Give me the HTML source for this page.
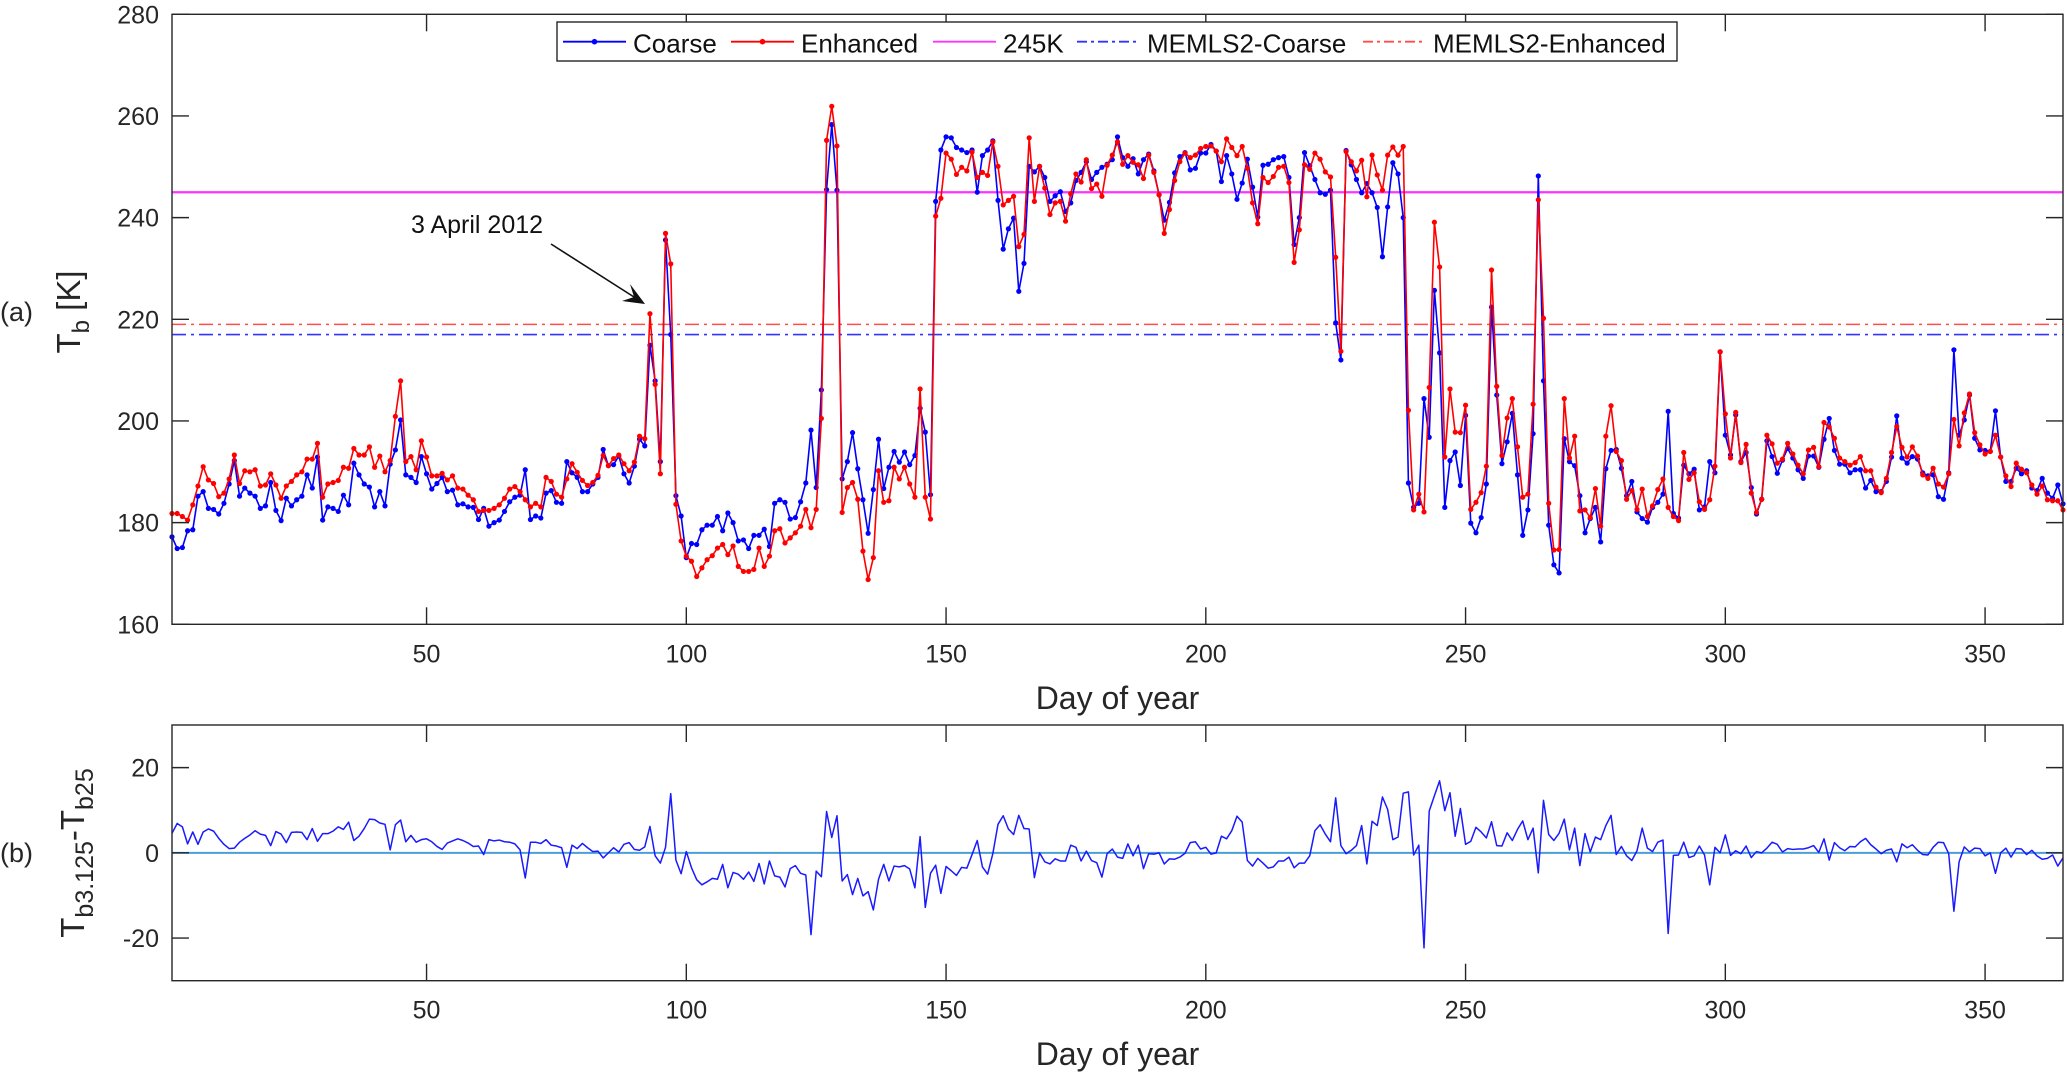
<!DOCTYPE html>
<html><head><meta charset="utf-8"><style>
html,body{margin:0;padding:0;background:#fff;}
svg{display:block;font-family:"Liberation Sans",Arial,sans-serif;}
</style></head><body>
<svg id="chart" width="2067" height="1074" viewBox="0 0 2067 1074" xmlns="http://www.w3.org/2000/svg">
<rect x="0" y="0" width="2067" height="1074" fill="#fff"/>
<g id="gtop"></g>
<g id="gbot"></g>
</svg>
<script>
const coarse = [
177.2,174.9,175.1,178.4,178.6,185.2,186.1,182.8,182.6,181.7,
183.8,187.6,192.2,185.2,186.8,185.8,185.2,182.8,183.3,187.9,
182.4,180.4,184.8,183.3,184.5,185.2,189.4,186.8,192.9,180.5,
183.1,182.8,182.2,185.4,183.5,191.7,189.4,187.6,187.0,183.1,
186.1,183.3,191.5,194.3,200.2,189.4,188.9,187.9,193.0,189.6,
186.6,187.7,188.9,186.1,186.4,183.5,183.7,183.1,183.0,180.6,
182.8,179.3,180.0,180.5,182.2,184.1,185.0,185.4,190.4,180.6,
181.3,180.9,185.8,186.3,
184.0,183.8,192.0,189.8,188.9,186.1,186.1,187.6,188.9,194.4,
191.2,191.4,193.1,189.6,187.8,191.1,196.4,195.1,214.9,207.9,
192.0,235.6,217.0,185.3,181.3,173.1,175.9,175.7,178.6,179.5,
179.5,181.2,178.4,181.9,180.0,176.4,176.6,174.9,177.5,177.5,
178.7,175.3,183.8,184.5,184.0,180.7,181.0,184.1,187.8,198.2,
186.9,206.1,245.5,258.3,245.4,188.6,192.0,197.7,190.6,184.5,
177.9,186.5,196.4,186.7,190.9,194.0,191.9,193.9,191.4,193.2,
202.5,197.8,185.5,
243.2,253.3,255.9,255.7,253.8,253.3,252.8,253.3,245.0,252.2,
253.3,255.1,243.4,233.8,237.8,239.9,225.5,231.0,250.1,249.0,
250.1,247.9,243.2,244.3,245.1,241.2,242.9,247.3,248.9,251.0,
247.5,248.9,249.9,250.5,251.4,255.9,251.8,250.1,251.6,248.6,
251.4,252.5,249.2,244.5,239.5,243.0,248.8,252.0,252.8,249.4,
249.7,252.7,252.7,254.4,253.1,247.1,252.2,248.6,243.6,246.8,
251.5,246.0,240.1,250.3,250.5,251.4,251.8,252.0,247.9,234.7,
240.0,252.8,250.2,247.5,244.9,244.6,245.4,219.3,212.0,253.2,
250.4,247.5,244.9,246.7,244.9,242.0,232.3,242.1,250.8,248.6,
240.0,187.8,183.0,183.8,204.4,196.8,225.7,213.4,183.0,192.2,
193.9,187.3,201.1,179.9,178.0,181.0,187.6,222.4,205.1,191.6,
195.9,201.5,189.4,177.5,182.5,197.5,248.2,207.9,179.5,171.7,
170.1,196.5,192.0,191.2,185.3,178.0,180.8,183.0,176.2,190.6,
194.2,194.4,190.7,185.3,188.1,182.1,180.8,180.1,183.0,184.0,
185.6,201.9,
181.8,180.9,191.3,189.6,190.5,182.5,183.1,192.0,189.8,213.6,
197.2,193.3,201.2,192.0,193.8,186.9,181.7,184.6,196.1,193.0,
189.7,192.3,194.6,192.7,190.4,188.7,193.1,193.1,190.9,196.4,
200.5,194.2,191.5,191.5,189.8,190.4,190.4,186.8,188.3,186.1,
186.1,188.1,192.9,201.0,192.7,191.7,193.0,192.5,189.8,189.2,
189.4,185.1,184.6,189.8,214.0,197.2,200.2,205.1,196.6,194.3,
194.2,194.0,202.0,192.9,188.1,188.1,190.7,189.6,190.2,186.8,
186.3,188.7,185.8,184.8,187.4,183.7
];
const enhanced = [
181.8,181.8,181.2,180.5,183.5,187.2,191.0,188.4,187.7,185.1,
185.8,188.6,193.3,187.7,190.2,190.0,190.4,187.2,187.4,189.6,
187.4,184.8,187.2,188.1,189.4,190.0,192.5,192.5,195.6,185.0,
187.6,187.9,188.3,190.9,190.7,194.6,193.3,193.3,194.9,190.9,
193.1,190.0,192.2,200.9,207.9,192.0,193.0,190.4,196.1,192.9,
189.2,189.2,189.7,188.4,189.2,186.8,186.6,185.4,184.5,182.2,
182.4,182.4,182.8,183.5,184.8,186.6,187.1,186.1,184.5,183.1,
183.8,183.1,188.9,188.1,
185.6,185.0,188.6,191.6,189.9,188.3,187.3,187.9,189.3,193.2,
191.2,192.6,193.3,191.6,190.2,191.9,197.0,196.5,221.1,207.2,
189.6,236.9,230.9,183.6,176.4,173.4,172.4,169.4,171.1,172.7,
173.5,175.0,175.7,173.7,175.4,171.4,170.4,170.4,170.8,175.0,
171.4,173.4,178.4,178.8,176.0,177.0,178.0,179.3,182.6,179.0,
182.6,200.5,255.2,261.9,254.1,182.0,186.9,187.9,184.6,174.4,
168.8,173.1,190.2,184.0,184.3,190.9,188.6,190.9,187.6,185.0,
206.3,185.0,180.7,
240.3,243.8,252.7,251.5,248.5,249.9,249.2,252.9,247.9,248.9,
248.3,254.9,250.1,242.5,243.4,244.2,234.3,236.7,255.7,243.2,
250.1,245.8,240.6,242.9,243.2,239.3,244.7,248.6,247.0,251.4,
245.7,246.6,244.2,250.3,252.3,254.9,250.5,252.2,250.9,250.4,
247.7,252.3,248.9,244.5,236.9,241.6,247.3,251.0,252.7,251.8,
252.3,253.6,254.0,254.1,253.1,251.0,255.5,253.8,252.2,254.0,
249.7,242.9,238.8,247.9,246.9,248.1,249.9,250.1,246.9,231.2,
237.6,250.4,249.5,252.7,251.5,249.0,248.0,232.2,213.7,253.0,
251.0,249.2,251.3,244.1,252.3,248.4,245.4,252.3,253.9,252.3,
254.0,202.1,182.5,185.6,182.1,206.6,239.1,230.3,192.9,206.3,
197.8,197.7,203.1,182.6,184.0,185.9,191.1,229.7,206.8,193.2,
200.6,204.4,194.9,185.0,185.6,203.3,243.5,220.2,183.8,174.6,
174.7,204.4,192.7,197.0,182.3,182.5,181.0,186.7,179.3,197.0,
203.0,194.0,192.2,184.6,186.3,182.6,186.6,181.2,183.3,186.5,
188.6,183.0,
181.2,180.4,193.8,188.5,189.8,184.1,182.6,184.5,191.1,213.6,
201.4,192.7,201.7,191.8,195.4,185.8,182.0,184.6,197.2,195.5,
191.7,192.5,195.6,193.5,191.3,189.6,194.3,194.8,191.0,199.7,
198.8,196.6,192.7,192.0,191.3,191.8,193.0,190.2,190.2,187.0,
185.9,188.7,193.8,198.9,194.8,192.9,194.9,193.1,189.4,188.7,
190.7,187.6,187.0,189.6,200.3,195.1,201.6,205.3,197.7,195.3,
193.5,194.0,197.2,192.9,189.2,187.1,191.7,190.5,189.8,187.4,
185.6,187.2,184.5,184.3,184.3,182.5
];
const refLevels = [245, 217, 219];
const xTicks = [50, 100, 150, 200, 250, 300, 350];
const yTicksTop = [160, 180, 200, 220, 240, 260, 280];
const yTicksBot = [-20, 0, 20];

const NS = "http://www.w3.org/2000/svg";
const N = Math.min(coarse.length, enhanced.length);
const AX = {l:172, r:2063};
const TOPAX = {t:14.3, b:624.3, min:160, max:280};
const BOTAX = {t:725, b:980.7, min:-30, max:30};
const xS = d => AX.l + (d - 1) * (AX.r - AX.l) / (365 - 1);
const yT = v => TOPAX.b - (v - TOPAX.min) * (TOPAX.b - TOPAX.t) / (TOPAX.max - TOPAX.min);
const yB = v => BOTAX.b - (v - BOTAX.min) * (BOTAX.b - BOTAX.t) / (BOTAX.max - BOTAX.min);
function mk(tag, attrs, parent) {
  const e = document.createElementNS(NS, tag);
  for (const k in attrs) e.setAttribute(k, attrs[k]);
  parent.appendChild(e);
  return e;
}
const gTop = document.getElementById('gtop');
const gBot = document.getElementById('gbot');
const AXC = '#262626';

function axesFrame(g, T, yfun, yticks, name) {
  let f = mk('rect', {x:AX.l, y:T.t, width:AX.r-AX.l, height:T.b-T.t, fill:'none', stroke:AXC, 'stroke-width':1.4}, g);
  
  
  xTicks.forEach(d => {
    const x = xS(d);
    let t1 = mk('line', {x1:x, x2:x, y1:T.b, y2:T.b-17, stroke:AXC, 'stroke-width':1.4}, g);
    
    
    mk('line', {x1:x, x2:x, y1:T.t, y2:T.t+17, stroke:AXC, 'stroke-width':1.4}, g);
    let lb = mk('text', {x:x, y:T.b+38, 'text-anchor':'middle', 'font-size':25, fill:AXC}, g);
    lb.textContent = d;
    
    
  });
  yticks.forEach(v => {
    const y = yfun(v);
    let t1 = mk('line', {x1:AX.l, x2:AX.l+17, y1:y, y2:y, stroke:AXC, 'stroke-width':1.4}, g);
    
    
    mk('line', {x1:AX.r, x2:AX.r-17, y1:y, y2:y, stroke:AXC, 'stroke-width':1.4}, g);
    let lb = mk('text', {x:AX.l-13, y:y+9, 'text-anchor':'end', 'font-size':25, fill:AXC}, g);
    lb.textContent = v;
    
    
  });
}

const refColors = ['#ff33ff', '#3333ff', '#ff4d4d'];
const refDash = ['', '14 5 3 5', '14 5 3 5'];
const refNames = ['line-245k', 'memls2-coarse-line', 'memls2-enhanced-line'];
refLevels.forEach((v, i) => {
  let l = mk('line', {x1:AX.l, x2:AX.r, y1:yT(v), y2:yT(v), stroke:refColors[i], 'stroke-width': i===0?2.2:1.6}, gTop);
  if (refDash[i]) l.setAttribute('stroke-dasharray', refDash[i]);
  
  
});

function series(arr, color, name) {
  let pts = [];
  for (let i = 0; i < N; i++) pts.push(xS(i+1).toFixed(2) + ',' + yT(arr[i]).toFixed(2));
  let p = mk('polyline', {points:pts.join(' '), fill:'none', stroke:color, 'stroke-width':1.6, 'stroke-linejoin':'round'}, gTop);
  
  
  const g = mk('g', {fill:color}, gTop);
  
  
  for (let i = 0; i < N; i++) {
    mk('circle', {cx:xS(i+1), cy:yT(arr[i]), r:2.6}, g);
  }
}
series(coarse, '#0000ff', 'coarse');
series(enhanced, '#ff0000', 'enhanced');

axesFrame(gTop, TOPAX, yT, yTicksTop, 'panel-a');

let xl = mk('text', {x:(AX.l+AX.r)/2, y:709, 'text-anchor':'middle', 'font-size':32, fill:AXC}, gTop);
xl.textContent = 'Day of year';



let yl = mk('text', {transform:'translate(80,312) rotate(-90)', 'text-anchor':'middle', 'font-size':33, fill:AXC}, gTop);
yl.innerHTML = 'T<tspan font-size="24" dy="9">b</tspan><tspan dy="-9"> [K]</tspan>';



let pa = mk('text', {x:0, y:321, 'font-size':27, fill:AXC}, gTop);
pa.textContent = '(a)';



let an = mk('text', {x:411, y:233, 'font-size':25, fill:'#111'}, gTop);
an.textContent = '3 April 2012';


let ar = mk('line', {x1:551, y1:244, x2:634, y2:297, stroke:'#111', 'stroke-width':1.6}, gTop);


let ah = mk('polygon', {points:'645,304 622,301 634,297 630,284', fill:'#111'}, gTop);



const lg = mk('g', {}, gTop);


mk('rect', {x:557, y:22, width:1120, height:39, fill:'#fff', stroke:AXC, 'stroke-width':1.4}, lg);
const legItems = [
  {t:'Coarse', c:'#0000ff', x:563, m:true, d:'', n:'legend-entry-coarse'},
  {t:'Enhanced', c:'#ff0000', x:731, m:true, d:'', n:'legend-entry-enhanced'},
  {t:'245K', c:'#ff33ff', x:933, m:false, d:'', n:'legend-entry-245k'},
  {t:'MEMLS2-Coarse', c:'#3333ff', x:1077, m:false, d:'10 4 3 4', n:'legend-entry-memls2-coarse'},
  {t:'MEMLS2-Enhanced', c:'#ff4d4d', x:1363, m:false, d:'10 4 3 4', n:'legend-entry-memls2-enhanced'}
];
legItems.forEach(it => {
  const g = mk('g', {}, lg);
  
  
  let l = mk('line', {x1:it.x, x2:it.x+63, y1:41.7, y2:41.7, stroke:it.c, 'stroke-width':1.8}, g);
  if (it.d) l.setAttribute('stroke-dasharray', it.d);
  if (it.m) mk('circle', {cx:it.x+31.5, cy:41.7, r:2.8, fill:it.c}, g);
  let tx = mk('text', {x:it.x+70, y:52.3, 'font-size':26, fill:'#111'}, g);
  tx.textContent = it.t;
});

let zl = mk('line', {x1:AX.l, x2:AX.r, y1:yB(0), y2:yB(0), stroke:'#4a9fd8', 'stroke-width':2}, gBot);


let dp = [];
for (let i = 0; i < N; i++) dp.push(xS(i+1).toFixed(2) + ',' + yB(enhanced[i] - coarse[i]).toFixed(2));
let dl = mk('polyline', {points:dp.join(' '), fill:'none', stroke:'#1a1aff', 'stroke-width':1.5, 'stroke-linejoin':'round'}, gBot);



axesFrame(gBot, BOTAX, yB, yTicksBot, 'panel-b');

let xl2 = mk('text', {x:(AX.l+AX.r)/2, y:1065, 'text-anchor':'middle', 'font-size':32, fill:AXC}, gBot);
xl2.textContent = 'Day of year';



let yl2 = mk('text', {transform:'translate(84,853) rotate(-90)', 'text-anchor':'middle', 'font-size':33, fill:AXC}, gBot);
yl2.innerHTML = 'T<tspan font-size="25" dy="9">b3.125</tspan><tspan dy="-9">-T</tspan><tspan font-size="25" dy="9">b25</tspan>';



let pb = mk('text', {x:0, y:862, 'font-size':27, fill:AXC}, gBot);
pb.textContent = '(b)';


</script>
</body></html>
